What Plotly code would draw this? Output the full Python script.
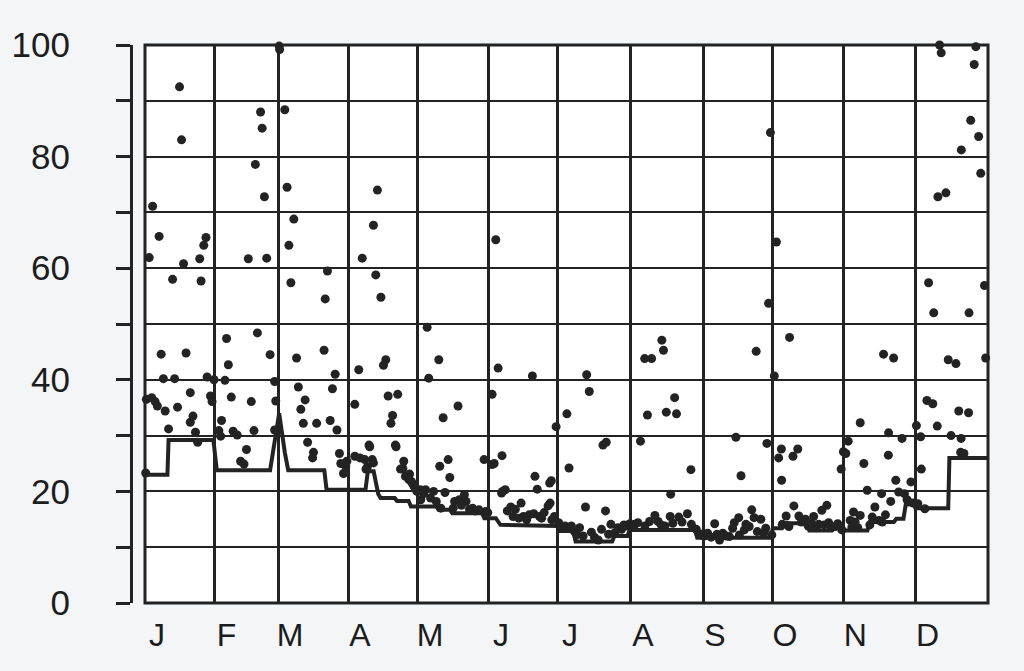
import numpy as np
import plotly.graph_objects as go

# ---------------- data ----------------
# calendar month starts (day of year) and where the chart's month grid lines are drawn
month_start = [0, 31, 59, 90, 120, 151, 181, 212, 243, 273, 304, 334, 365]
month_grid = [0, 30.1, 57.6, 87.9, 118.2, 148.9, 178.8, 210.4, 241.6, 271.9, 302.4, 333.6, 365]
month_label = ["J", "F", "M", "A", "M", "J", "J", "A", "S", "O", "N", "D", ""]

y_ticks = [0, 10, 20, 30, 40, 50, 60, 70, 80, 90, 100]
y_labels = ["0", "", "20", "", "40", "", "60", "", "80", "", "100"]

# daily observations (day of year, value)
dot_day = [
    # Jan
    0.3, 0.6, 1.9, 3.0, 3.4, 4.5, 5.5, 6.3, 7.2, 8.2, 9.0, 10.5, 12.3, 13.2, 14.5, 15.4, 16.3,
    17.2, 18.3, 20.2, 20.2, 21.4, 22.5, 23.5, 24.4, 25.0, 26.2, 27.2, 27.7, 29.2, 29.9, 30.8,
    # Feb
    32.9, 33.7, 34.1, 35.6, 36.3, 37.1, 38.4, 39.2, 41.0, 42.5, 44.0, 45.1, 45.9, 47.2, 48.4,
    49.0, 49.9, 51.3, 52.0, 53.0, 54.0, 55.5, 57.5, 57.5, 58.0,
    # Mar
    59.5, 59.7, 62.0, 63.0, 63.8, 64.7, 66.0, 67.2, 68.0, 69.1, 70.2, 71.0, 72.1, 74.3, 74.7,
    76.1, 79.4, 79.9, 80.9, 82.1, 83.1, 84.3, 85.1, 86.2, 86.8, 88.0, 89.0, 89.5,
    # Apr
    92.9, 92.9, 94.6, 95.1, 96.1, 97.2, 97.7, 98.3, 99.0, 99.3, 100.4, 100.9, 100.9, 101.9,
    102.6, 104.1, 105.2, 106.2, 107.2, 108.4, 109.1, 110.3, 110.6, 111.3, 112.5, 113.5, 113.9,
    114.6, 116.1, 116.4, 117.1, 117.5, 118.3, 119.5,
    # May
    121.0, 121.2, 122.5, 123.3, 124.0, 124.7, 125.5, 126.8, 128.0, 129.1, 129.5, 130.0, 131.0,
    131.8, 133.2, 133.9, 135.4, 136.0, 137.5, 138.0, 139.0, 140.3, 141.0, 142.5, 143.9, 145.0,
    146.7, 148.9, 149.6, 150.5,
    # Jun
    152.4, 152.4, 153.3, 154.0, 155.0, 156.5, 156.7, 156.9, 158.1, 159.0, 160.5, 161.5, 162.5,
    164.0, 165.0, 166.0, 167.4, 168.5, 169.9, 170.5, 171.0, 172.0, 173.0, 173.9, 175.0, 176.7,
    177.4, 177.6, 178.1, 178.3, 179.5, 180.2,
    # Jul
    181.3, 182.5, 184.0, 184.8, 185.7, 186.7, 188.0, 189.0, 190.2, 191.7, 192.7, 193.2, 194.3,
    195.2, 196.5, 198.1, 199.5, 200.1, 201.2, 201.5, 202.5, 203.5, 205.2, 206.5, 208.0, 209.0,
    210.2, 211.5,
    # Aug
    213.7, 215.0, 216.1, 217.9, 218.0, 219.1, 220.0, 220.9, 222.3, 223.7, 225.0, 225.3, 226.0,
    226.6, 227.2, 228.9, 229.1, 230.0, 230.8, 231.6, 232.6, 234.0, 236.3, 237.8, 238.0, 240.1,
    242.3,
    # Sep
    243.5, 245.0, 246.5, 248.0, 249.0, 250.1, 251.5, 253.0, 254.3, 255.7, 256.4, 257.1, 258.3,
    258.6, 259.3, 260.7, 261.4, 262.8, 263.9, 264.9, 265.8, 266.3, 267.8, 269.0, 269.9, 270.4,
    271.1, 271.9, 272.5,
    # Oct
    273.6, 274.5, 275.5, 276.7, 276.8, 277.1, 278.8, 279.5, 280.0, 280.3, 281.8, 282.2, 283.9,
    284.4, 285.5, 287.3, 288.5, 290.0, 290.9, 292.0, 293.1, 294.5, 295.5, 296.7, 297.5, 298.5,
    300.4, 301.5, 303.0, 303.3,
    # Nov
    304.0, 305.0, 306.0, 306.8, 307.5, 308.2, 308.9, 310.0, 311.0, 311.0, 312.5, 313.9, 315.0,
    316.0, 317.1, 318.8, 319.9, 320.2, 320.7, 321.5, 322.7, 322.8, 323.7, 324.9, 325.8, 327.0,
    328.4, 329.4, 330.5, 331.0, 332.1, 333.0,
    # Dec
    334.4, 335.0, 336.2, 336.5, 338.0, 338.9, 339.6, 341.4, 341.8, 343.3, 343.6, 344.3, 345.0,
    347.0, 348.0, 349.2, 351.3, 352.5, 353.3, 353.5, 353.6, 354.7, 356.7, 356.9, 357.6, 359.1,
    359.8, 361.0, 361.9, 363.5, 364.0,
]

dot_val = [
    # Jan
    23.3, 36.5, 61.9, 36.8, 71.1, 36.1, 35.3, 65.7, 44.6, 40.2, 34.4, 31.2, 58.0, 40.2, 35.1, 92.5, 83.0,
    60.8, 44.8, 37.7, 32.4, 33.5, 30.6, 28.8, 61.7, 57.7, 64.1, 65.5, 40.5, 37.1, 36.1, 40.0,
    # Feb
    30.9, 29.9, 32.7, 39.9, 47.4, 42.7, 36.9, 30.8, 30.1, 25.4, 24.9, 27.5, 61.7, 36.1, 30.9,
    78.6, 48.4, 88.0, 85.1, 72.8, 61.8, 44.5, 39.7, 31.0, 36.2,
    # Mar
    99.8, 99.2, 88.4, 74.5, 64.1, 57.4, 68.8, 43.9, 38.7, 34.7, 32.2, 36.4, 28.8, 26.0, 27.0,
    32.2, 45.3, 54.5, 59.5, 32.7, 38.4, 41.0, 31.0, 26.8, 25.0, 23.2, 24.5, 25.4,
    # Apr
    26.3, 35.6, 41.8, 26.0, 61.8, 25.7, 24.0, 24.4, 28.3, 28.0, 25.7, 67.7, 25.1, 58.8,
    74.0, 54.8, 42.6, 43.6, 37.1, 32.2, 33.6, 28.3, 28.0, 37.4, 24.0, 24.1, 25.4,
    22.7, 22.1, 23.1, 21.8, 21.5, 20.9, 20.0,
    # May
    20.3, 18.5, 19.6, 20.3, 49.4, 40.3, 18.8, 20.0, 18.2, 43.6, 24.5, 17.0, 33.2,
    19.8, 25.7, 22.5, 17.0, 18.2, 35.3, 18.5, 17.5, 19.4, 18.2, 16.8, 17.0, 16.5,
    16.7, 25.7, 16.4, 16.2,
    # Jun
    24.8, 37.4, 25.0, 65.1, 42.1, 19.7, 26.4, 20.0, 20.3, 16.5, 17.2, 15.5, 16.8,
    15.2, 17.9, 15.5, 14.9, 15.8, 40.7, 16.0, 22.7, 20.4, 15.5, 15.2, 16.2, 17.4,
    21.5, 17.9, 21.9, 14.9, 15.5, 31.6,
    # Jul
    14.4, 13.5, 13.8, 33.9, 24.2, 13.8, 12.8, 12.2, 13.5, 12.0, 17.2, 40.9, 37.9,
    12.7, 11.8, 11.3, 13.2, 28.3, 16.5, 28.8, 12.3, 14.1, 12.6, 13.5, 13.2, 14.0,
    13.8, 14.2,
    # Aug
    14.1, 14.4, 29.0, 43.8, 13.8, 33.7, 14.6, 43.8, 15.7, 14.6, 14.0, 47.1, 45.3,
    13.8, 34.2, 15.5, 19.5, 14.3, 36.8, 33.9, 15.4, 14.5, 16.0, 23.9, 14.1, 13.2,
    12.3,
    # Sep
    12.0, 12.5, 11.8, 14.2, 12.3, 11.3, 12.5, 12.0, 11.9, 13.4, 14.4, 29.7, 15.3,
    12.2, 22.8, 13.1, 14.1, 13.7, 16.7, 15.3, 45.1, 12.8, 15.0, 12.5, 13.4, 28.6,
    53.7, 84.3, 12.2,
    # Oct
    40.7, 64.7, 26.0, 27.6, 22.0, 14.1, 15.6, 13.9, 13.7, 47.6, 26.3, 17.4, 27.6,
    15.6, 14.5, 15.0, 13.8, 14.2, 15.5, 13.5, 14.1, 16.6, 14.0, 17.5, 14.4, 13.6,
    13.7, 14.2, 24.0, 13.1,
    # Nov
    27.1, 26.8, 29.0, 14.8, 13.6, 16.3, 14.5, 13.5, 32.3, 15.7, 25.0, 20.2, 14.0,
    15.4, 17.2, 14.8, 19.6, 14.5, 44.6, 15.8, 26.5, 30.5, 18.2, 43.9, 22.0, 19.9,
    29.5, 19.6, 18.5, 18.1, 21.7, 17.9,
    # Dec
    31.8, 17.8, 29.8, 24.0, 16.9, 36.3, 57.4, 35.7, 52.0, 31.7, 72.8, 100.0, 98.6,
    73.5, 43.6, 30.0, 42.9, 34.4, 27.0, 29.5, 81.2, 26.8, 34.1, 52.0, 86.5, 96.5,
    99.7, 83.6, 77.0, 56.9, 43.9,
]

# stepped threshold line
thr_day = [0, 10, 10.5, 30.5, 32, 55.5, 59.5, 61, 62, 63.5, 79.5, 80.5, 97.5, 98.5, 101, 102,
           103, 104, 110, 111, 116, 117, 128, 129, 134, 135, 148, 149, 154, 156, 181, 182,
           187.5, 188.5, 204, 205, 210.5, 211.5, 239.5, 240.5, 272, 273, 277, 278, 288, 289,
           299, 300, 304, 305, 314, 315, 325, 326, 329, 330, 333, 334, 348, 348.5, 365]
thr_val = [23.0, 23.0, 29.2, 29.2, 23.8, 23.8, 34.0, 29.0, 27.0, 23.8, 23.8, 20.3, 20.3, 23.6,
           23.6, 21.5, 19.5, 18.8, 18.8, 18.3, 18.3, 17.3, 17.3, 16.7, 16.7, 16.1, 16.1, 15.2,
           15.2, 14.0, 13.8, 12.9, 12.9, 11.0, 11.0, 12.0, 12.0, 13.1, 13.1, 11.7, 11.7, 13.4,
           13.4, 14.3, 14.3, 13.0, 13.0, 13.4, 13.4, 13.0, 13.0, 14.5, 14.5, 15.1, 15.1, 17.8,
           17.8, 17.0, 17.0, 26.0, 26.0]


# place calendar days on the chart's (hand-drawn) month grid
def on_grid(days):
    return np.interp(days, month_start, month_grid)


# ---------------- figure ----------------
INK = "#232323"
FONT = "Arial, Liberation Sans, sans-serif"

fig = go.Figure()
fig.add_trace(go.Scatter(
    x=on_grid(thr_day), y=thr_val, mode="lines",
    line=dict(color=INK, width=4), cliponaxis=False, showlegend=False,
))
fig.add_trace(go.Scatter(
    x=on_grid(dot_day), y=dot_val, mode="markers",
    marker=dict(color=INK, size=9, line=dict(width=0)),
    cliponaxis=False, showlegend=False,
))

L, R, T, B = 131, 36, 45, 68
W, H = 1024, 671
plot_w = W - L - R
fig.update_layout(
    width=W, height=H,
    margin=dict(l=L, r=R, t=T, b=B),
    paper_bgcolor="#f3f5f7",
    plot_bgcolor="white",
    font=dict(family=FONT, size=34, color="#1c1c1c"),
    xaxis=dict(
        domain=[14 / plot_w, 1], range=[0, 365],
        tickmode="array", tickvals=month_grid, ticktext=month_label,
        ticks="", showline=False, zeroline=False,
        showgrid=True, gridcolor=INK, gridwidth=2.5,
        ticklabelshift=12, ticklabelstandoff=10,
        tickfont=dict(size=32),
    ),
    yaxis=dict(
        range=[0, 100], anchor="free", position=0,
        tickmode="array", tickvals=y_ticks, ticktext=y_labels,
        ticks="outside", ticklen=14, tickwidth=3, tickcolor=INK,
        showline=True, linecolor=INK, linewidth=3,
        showgrid=True, gridcolor=INK, gridwidth=2,
        zeroline=False,
        ticklabelstandoff=39,
        tickfont=dict(size=35),
    ),
)
fig.add_shape(type="rect", xref="x domain", yref="y domain", x0=0, x1=1, y0=0, y1=1,
              line=dict(color=INK, width=3), layer="above")

fig.write_html("out.html", config={"displayModeBar": False},
               post_script="document.body.style.margin='0';")
